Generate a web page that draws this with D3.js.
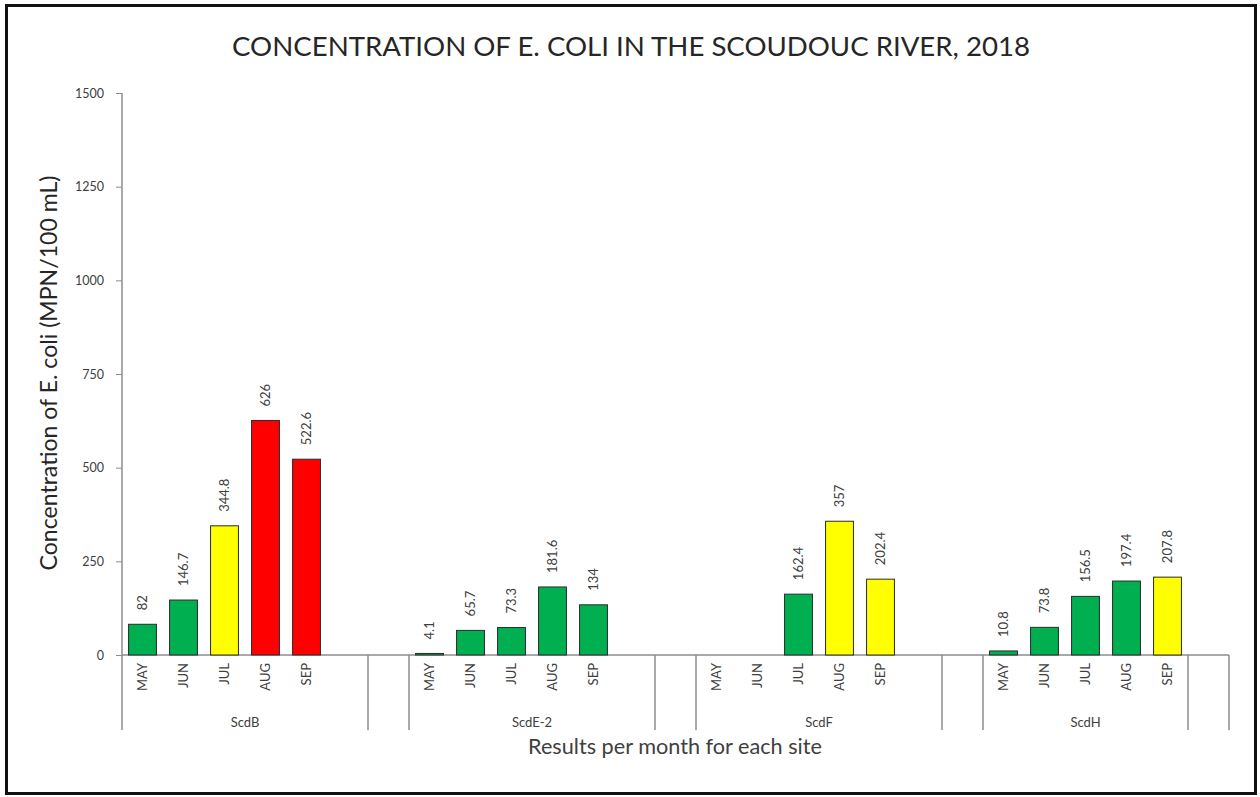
<!DOCTYPE html>
<html>
<head>
<meta charset="utf-8">
<script src="https://cdn.jsdelivr.net/npm/d3@7"></script>
<style>
  html, body { margin: 0; padding: 0; background: #ffffff; }
  svg { display: block; font-family: Lato, "Open Sans", sans-serif; }
</style>
</head>
<body>
<svg id="chart" width="1260" height="797"></svg>
<script>
// E. coli concentrations (MPN/100 mL) by sampling month and site, 2018
const sites = ["ScdB", "ScdE-2", "ScdF", "ScdH"];
const months = ["MAY", "JUN", "JUL", "AUG", "SEP"];
const valuesScdB = [82, 146.7, 344.8, 626, 522.6];
const valuesScdE2 = [4.1, 65.7, 73.3, 181.6, 134];
const valuesScdF = [null, null, 162.4, 357, 202.4];   // no samples in May and June
const valuesScdH = [10.8, 73.8, 156.5, 197.4, 207.8];
// empty inner categories that follow each site's months on the axis
const trailingBlanks = [1, 1, 1, 0];
const yTicks = [0, 250, 500, 750, 1000, 1250, 1500];
// guideline thresholds used to colour the bars
const thresholds = [200, 400];
const bandColours = ["#00B050", "#FFFF00", "#FF0000"];

const siteValues = [valuesScdB, valuesScdE2, valuesScdF, valuesScdH];

const title = "CONCENTRATION OF E. COLI IN THE SCOUDOUC RIVER, 2018";
const yTitle = "Concentration of E. coli (MPN/100 mL)";
const xTitle = "Results per month for each site";

const plot = { left: 122, right: 1229, top: 93, bottom: 655 };
const svg = d3.select("#chart");

// outer frame
svg.append("rect")
  .attr("x", 6.5).attr("y", 5.5)
  .attr("width", 1249).attr("height", 788)
  .attr("fill", "#fff").attr("stroke", "#111").attr("stroke-width", 3);

// Build the two-level category axis: each site's months (plus any blank
// inner cells), followed by a one-slot blank outer category.
const slots = [];
const outerGroups = [];
sites.forEach((site, i) => {
  const start = slots.length;
  months.forEach((m, j) => slots.push({ key: site + "|" + m, month: m, site, value: siteValues[i][j] }));
  for (let b = 0; b < trailingBlanks[i]; b++) slots.push({ key: site + "|blank" + b, month: "", site, value: null });
  outerGroups.push({ label: site, start, end: slots.length });
  const gStart = slots.length;
  slots.push({ key: "gap|" + i, month: "", site: "", value: null });
  outerGroups.push({ label: "", start: gStart, end: slots.length });
});

const x = d3.scaleBand()
  .domain(slots.map(d => d.key))
  .range([plot.left, plot.right])
  .paddingInner(0).paddingOuter(0);
const y = d3.scaleLinear().domain([0, 1500]).range([plot.bottom, plot.top]);
const colour = d3.scaleThreshold().domain(thresholds).range(bandColours);

const axisColour = "#8c8c8c";
const textColour = "#404040";

// y axis
const yAxis = svg.append("g")
  .attr("transform", `translate(${plot.left},0)`)
  .call(d3.axisLeft(y).tickValues(yTicks).tickFormat(d3.format("d"))
    .tickSize(6).tickSizeOuter(0).tickPadding(12));
yAxis.select(".domain").remove();
yAxis.selectAll(".tick line").attr("stroke", axisColour);
yAxis.selectAll(".tick text")
  .attr("fill", textColour).style("font-size", "12.5px").style("font-family", "Lato, sans-serif");

const sepBottom = 730;
svg.append("line")
  .attr("x1", plot.left).attr("x2", plot.left)
  .attr("y1", y(1500)).attr("y2", sepBottom)
  .attr("stroke", axisColour).attr("stroke-width", 1.5);

// horizontal axis line
svg.append("line")
  .attr("x1", plot.left).attr("x2", plot.right)
  .attr("y1", y(0)).attr("y2", y(0))
  .attr("stroke", axisColour).attr("stroke-width", 1.5);

// separators between outer categories
const boundaries = outerGroups.map(g => x(slots[g.end - 1].key) + x.bandwidth());
svg.append("g").selectAll("line")
  .data(boundaries)
  .join("line")
  .attr("x1", d => d).attr("x2", d => d)
  .attr("y1", y(0)).attr("y2", sepBottom)
  .attr("stroke", axisColour).attr("stroke-width", 1.5);

// bars
const barFrac = 0.68;
const barW = x.bandwidth() * barFrac;
const withValues = slots.filter(d => d.value != null);
svg.append("g").selectAll("rect")
  .data(withValues)
  .join("rect")
  .attr("x", d => x(d.key) + (x.bandwidth() - barW) / 2)
  .attr("y", d => y(d.value))
  .attr("width", barW)
  .attr("height", d => y(0) - y(d.value))
  .attr("fill", d => colour(d.value))
  .attr("stroke", "#2b2b2b").attr("stroke-width", 1);

// value labels above each bar, rotated
svg.append("g").selectAll("text")
  .data(withValues)
  .join("text")
  .attr("transform", d => `translate(${x(d.key) + x.bandwidth() / 2 + 4.5},${y(d.value) - 14}) rotate(-90)`)
  .attr("text-anchor", "start")
  .attr("fill", textColour)
  .style("font-size", "13px")
  .text(d => String(d.value));

// month labels
svg.append("g").selectAll("text")
  .data(slots.filter(d => d.month))
  .join("text")
  .attr("transform", d => `translate(${x(d.key) + x.bandwidth() / 2 + 4.5},${y(0) + 8}) rotate(-90)`)
  .attr("text-anchor", "end")
  .attr("fill", textColour)
  .style("font-size", "13px")
  .text(d => d.month);

// site labels
svg.append("g").selectAll("text")
  .data(outerGroups.filter(g => g.label))
  .join("text")
  .attr("x", g => (x(slots[g.start].key) + x(slots[g.end - 1].key) + x.bandwidth()) / 2)
  .attr("y", 727)
  .attr("text-anchor", "middle")
  .attr("fill", textColour)
  .style("font-size", "13px")
  .text(g => g.label);

// scale a text element's font size so that it spans the given width
function fitWidth(sel, width, baseSize) {
  sel.style("font-size", baseSize + "px");
  const len = sel.node().getComputedTextLength();
  sel.style("font-size", (baseSize * width / len).toFixed(2) + "px");
  return sel;
}

// chart title
fitWidth(svg.append("text")
  .attr("x", 631).attr("y", 56)
  .attr("text-anchor", "middle")
  .attr("fill", "#262626")
  .text(title), 798, 24);

// axis titles
fitWidth(svg.append("text")
  .attr("transform", "translate(57,373) rotate(-90)")
  .attr("text-anchor", "middle")
  .attr("fill", "#262626")
  .text(yTitle), 395, 16);

fitWidth(svg.append("text")
  .attr("x", 675).attr("y", 754)
  .attr("text-anchor", "middle")
  .attr("fill", textColour)
  .text(xTitle), 294, 16);
</script>
</body>
</html>
